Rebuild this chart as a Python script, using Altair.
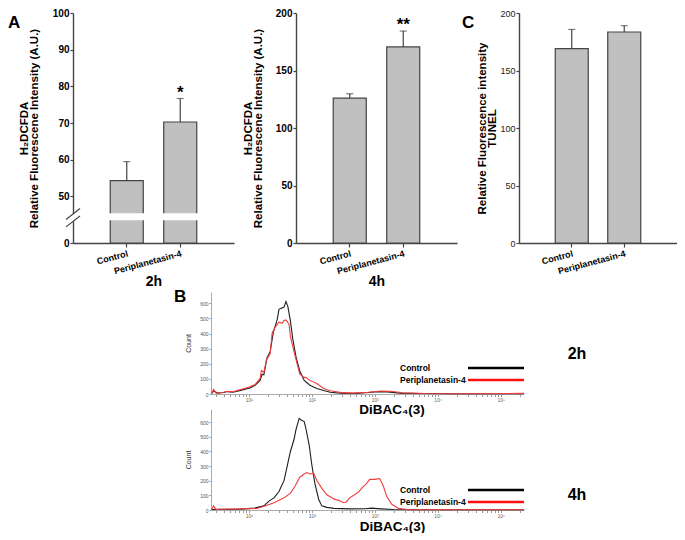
import math
import altair as alt
import pandas as pd

FONT = "Liberation Sans"
groups = ["Control", "Periplanetasin-4"]

# ---- bar panels (mean, error) ----
h2dcfda_2h_mean = [54.3, 70.3]
h2dcfda_2h_err = [5.2, 6.4]
h2dcfda_4h_mean = [126.0, 170.5]
h2dcfda_4h_err = [3.8, 13.8]
tunel_mean = [169.0, 183.5]
tunel_err = [16.7, 5.5]
sig_2h = ["", "*"]
sig_4h = ["", "**"]
sig_tunel = ["", ""]

ticks_2h = [0, 50, 60, 70, 80, 90, 100]
ticks_200 = [0, 50, 100, 150, 200]
break_band = [41.0, 45.4]      # white gap drawn across the bars (axis break)
axis_gap = [39.0, 45.2]        # gap in the y axis line
slash_lo = [42.1, 29.0]        # break marks (start value)
slash_hi = [46.7, 44.7]        # break marks (end value)

# ---- DiBAC4(3) histograms: log10 intensity, cell count ----
h2_ctrl_log = [0.41, 0.45, 0.50, 0.60, 0.66, 0.75, 0.87, 1.02, 1.10, 1.18, 1.21, 1.24, 1.29, 1.34, 1.39,
               1.45, 1.48, 1.53, 1.56, 1.59, 1.62, 1.66, 1.70, 1.75, 1.81, 1.88, 1.97, 2.08, 2.19, 2.29,
               2.45, 2.70, 2.90, 3.05, 3.20, 3.40, 3.70, 4.20, 5.37]
h2_ctrl_cnt = [4, 20, 6, 10, 16, 12, 24, 40, 58, 90, 130, 128, 240, 280, 410,
               490, 560, 570, 575, 612, 580, 486, 360, 246, 152, 90, 58, 37, 23, 12,
               6, 4, 10, 16, 14, 6, 3, 2, 2]
h2_trt_log = [0.41, 0.44, 0.48, 0.60, 0.66, 0.75, 0.87, 0.98, 1.10, 1.18, 1.20, 1.24, 1.28, 1.34, 1.37,
              1.42, 1.48, 1.53, 1.56, 1.59, 1.64, 1.66, 1.72, 1.77, 1.81, 1.88, 1.92, 1.97, 2.08, 2.19,
              2.29, 2.45, 2.65, 2.90, 3.10, 3.25, 3.45, 3.80, 4.30, 5.00, 5.37]
h2_trt_cnt = [4, 30, 5, 12, 18, 14, 30, 42, 62, 104, 156, 143, 225, 268, 402,
              443, 475, 468, 486, 490, 460, 381, 277, 194, 131, 110, 106, 90, 69, 37,
              21, 11, 6, 12, 20, 18, 8, 3, 2, 3, 4]

h4_ctrl_log = [0.41, 0.60, 0.87, 1.09, 1.24, 1.32, 1.40, 1.48, 1.56, 1.61, 1.66, 1.72, 1.75, 1.80, 1.83,
               1.88, 1.91, 1.96, 2.00, 2.05, 2.11, 2.16, 2.24, 2.35, 2.60, 2.85, 2.95, 3.10, 3.30, 3.60, 5.37]
h4_ctrl_cnt = [3, 4, 6, 13, 28, 61, 83, 126, 202, 300, 398, 485, 550, 626, 615,
               604, 550, 441, 311, 180, 72, 28, 18, 11, 8, 9, 13, 8, 3, 2, 2]
h4_trt_log = [0.41, 0.44, 0.48, 0.60, 0.87, 1.13, 1.29, 1.40, 1.56, 1.66, 1.73, 1.81, 1.88, 1.92, 1.97,
              2.03, 2.08, 2.16, 2.24, 2.35, 2.45, 2.51, 2.55, 2.60, 2.68, 2.75, 2.79, 2.87, 2.92, 3.00,
              3.08, 3.14, 3.19, 3.27, 3.38, 3.54, 4.00, 5.37]
h4_trt_cnt = [3, 28, 4, 5, 8, 10, 33, 50, 83, 115, 159, 224, 246, 256, 246,
              250, 202, 148, 104, 76, 61, 50, 55, 83, 104, 125, 148, 180, 209, 209,
              215, 159, 93, 39, 11, 2, 2, 2]

count_ticks = [0, 100, 200, 300, 400, 500, 600]
decades = [1, 2, 3, 4, 5]
decade_labels = ["10\u00b9", "10\u00b2", "10\u00b3", "10\u2074", "10\u2075"]
hist_xtitle = "DiBAC\u2084(3)"

AX = "#444444"


def bar_panel(mean, err, sig, yscale, yticks, ytitle, xtitle, width, height,
              bold_ticks, title_x, letter, letter_x, extra=None):
    df = pd.DataFrame({"group": groups, "mean": mean,
                       "top": [m + e for m, e in zip(mean, err)], "sig": sig})
    xaxis = alt.Axis(title=xtitle, titleY=38, titleBaseline="middle", titleFontSize=14,
                     titleFontWeight="bold", titleColor="black",
                     labelAngle=345, labelAlign="right", labelBaseline="top",
                     labelFontSize=9, labelFontWeight="bold", labelColor="black", labelPadding=2,
                     tickSize=4, tickColor=AX, tickWidth=1.2, domainColor=AX, domainWidth=1.4)
    yaxis = alt.Axis(values=yticks, tickCount=len(yticks) + 5, title=ytitle, titleX=title_x,
                     titleBaseline="top",
                     titleAngle=270, titleFontSize=11.5, titleFontWeight="bold", titleColor="black",
                     titleLineHeight=10, labelOverlap=False,
                     labelFontSize=10 if bold_ticks else 9,
                     labelFontWeight="bold" if bold_ticks else "normal",
                     labelColor="black" if bold_ticks else "#222222", labelPadding=1,
                     tickSize=3, tickColor=AX, tickWidth=1.2, domainColor=AX, domainWidth=1.4,
                     grid=False)
    x = alt.X("group:N", sort=groups, scale=alt.Scale(paddingInner=0.37, paddingOuter=0.69), axis=xaxis)
    base = alt.Chart(df).encode(x=x)
    bars = base.mark_bar(fill="#c0c0c0", stroke=AX, strokeWidth=1.2, size=33).encode(
        y=alt.Y("mean:Q", scale=yscale, axis=yaxis))
    rule = base.mark_rule(color=AX, strokeWidth=1.2).encode(y="mean:Q", y2="top:Q")
    cap = base.mark_tick(color=AX, thickness=1.2, size=7).encode(y="top:Q")
    star = base.mark_text(fontSize=17, fontWeight="bold", baseline="alphabetic", dy=-1,
                          color="black").encode(y="top:Q", text="sig:N")
    lt = alt.Chart(pd.DataFrame({"t": [letter]})).mark_text(
        fontSize=17, fontWeight="bold", align="left", baseline="alphabetic", color="black").encode(
        x=alt.value(letter_x), y=alt.value(15), text="t:N")
    layers = [bars]
    if extra is not None:
        layers += extra(x)
    layers += [rule, cap, star, lt]
    return alt.layer(*layers).properties(width=width, height=height)


H_TOP = 230
scale_2h = alt.Scale(domain=[0, 44, 100], range=[H_TOP, 205.5, 0], nice=False, zero=False)
scale_200 = alt.Scale(domain=[0, 200], nice=False)


def break_layers(x):
    band = pd.DataFrame({"group": groups, "lo": [break_band[0]] * 2, "hi": [break_band[1]] * 2})
    white = alt.Chart(band).mark_bar(fill="white", size=37).encode(
        x=x, y=alt.Y("lo:Q", scale=scale_2h), y2="hi:Q")
    gap = alt.Chart(pd.DataFrame({"lo": [axis_gap[0]], "hi": [axis_gap[1]]})).mark_rule(
        color="white", strokeWidth=4).encode(x=alt.value(0), y=alt.Y("lo:Q", scale=scale_2h), y2="hi:Q")
    sl = alt.Chart(pd.DataFrame({"lo": slash_lo, "hi": slash_hi})).mark_rule(
        color=AX, strokeWidth=1.2).encode(x=alt.value(-7), x2=alt.value(7),
                                          y=alt.Y("lo:Q", scale=scale_2h), y2="hi:Q")
    return [white, gap, sl]


pA = bar_panel(h2dcfda_2h_mean, h2dcfda_2h_err, sig_2h, scale_2h, ticks_2h,
               ["H\u2082DCFDA", "Relative Fluorescene Intensity (A.U.)"], "2h", 161, H_TOP,
               True, -55, "A", -65, extra=break_layers)
pB = bar_panel(h2dcfda_4h_mean, h2dcfda_4h_err, sig_4h, scale_200, ticks_200,
               ["H\u2082DCFDA", "Relative Fluorescene Intensity (A.U.)"], "4h", 161, H_TOP,
               True, -54, "", -60)
pC = bar_panel(tunel_mean, tunel_err, sig_tunel, scale_200, ticks_200,
               ["Relative Fluorescence intensity", "TUNEL"], "", 158, H_TOP,
               False, -43, "C", -57)

minor_vals = sorted({round(k + math.log10(m), 4) for k in range(0, 6) for m in range(1, 10)
                     if 0.4 <= k + math.log10(m) <= 5.37})
label_expr = " : ".join(f"datum.value == {d} ? '{t}'" for d, t in zip(decades, decade_labels)) + " : ''"
color_scale = alt.Scale(domain=groups, range=["#1e1e1e", "#f03c3c"])


def hist_panel(cl, cc, tl, tc, ymax, height, time_label, leg_y, time_y, letter,
               axis_title, title_above):
    df = pd.DataFrame(
        [{"series": groups[0], "logx": a, "count": b} for a, b in zip(cl, cc)] +
        [{"series": groups[1], "logx": a, "count": b} for a, b in zip(tl, tc)])
    xaxis = alt.Axis(values=minor_vals, tickCount=len(minor_vals) + 5, labelExpr=label_expr,
                     title=axis_title, titleX=181,
                     titleY=16, titleBaseline="middle", titleFontSize=13.5, titleFontWeight="bold",
                     titleColor="black", labelFontSize=5, labelColor="#666666", labelPadding=1,
                     labelOverlap=False, labelFlush=False, tickSize=2.5, tickColor="#999999",
                     domainColor="#aaaaaa", domainWidth=1, grid=False)
    yaxis = alt.Axis(values=count_ticks, tickCount=len(count_ticks) + 5, title="Count",
                     titleFontSize=7, titleFontWeight="normal",
                     titleColor="#333333", titleX=-27, titleBaseline="top", labelFontSize=5,
                     labelColor="#555555", labelPadding=1, tickSize=2, tickColor="#999999",
                     labelOverlap=False, domainColor="#aaaaaa", domainWidth=1, grid=False)
    lines = alt.Chart(df).mark_line(strokeWidth=1.1).encode(
        x=alt.X("logx:Q", scale=alt.Scale(domain=[0.4, 5.37], nice=False, zero=False), axis=xaxis),
        y=alt.Y("count:Q", scale=alt.Scale(domain=[0, ymax], nice=False), axis=yaxis),
        color=alt.Color("series:N", scale=color_scale, legend=None))
    layers = [lines]
    leg_cols = ["black", "#ff1010"]
    for i, g in enumerate(groups):
        d = pd.DataFrame({"series": [g]})
        layers.append(alt.Chart(d).mark_text(fontSize=8.5, fontWeight="bold", align="left",
                                             baseline="middle", color="black").encode(
            x=alt.value(189), y=alt.value(leg_y[i]), text="series:N"))
        layers.append(alt.Chart(d).mark_rule(strokeWidth=2.6, color=leg_cols[i]).encode(
            x=alt.value(257), x2=alt.value(313), y=alt.value(leg_y[i])))
    tl_df = pd.DataFrame({"t": [time_label]})
    layers.append(alt.Chart(tl_df).mark_text(fontSize=16, fontWeight="bold", color="black").encode(
        x=alt.value(366), y=alt.value(time_y), text="t:N"))
    if letter:
        layers.append(alt.Chart(pd.DataFrame({"t": [letter]})).mark_text(
            fontSize=17, fontWeight="bold", align="left", baseline="alphabetic", color="black").encode(
            x=alt.value(-37), y=alt.value(10), text="t:N"))
    if title_above:
        # x-axis title of the histogram above, which sits just over this panel
        layers.append(alt.Chart(pd.DataFrame({"t": [title_above]})).mark_text(
            fontSize=13.5, fontWeight="bold", baseline="middle", color="black").encode(
            x=alt.value(181), y=alt.value(1), text="t:N"))
    return alt.layer(*layers).properties(width=313, height=height)


def spacer(w, h):
    return alt.Chart(pd.DataFrame({"s": [0]})).mark_point(opacity=0).encode(
        x=alt.value(0), y=alt.value(0)).properties(width=w, height=h)


hTop = hist_panel(h2_ctrl_log, h2_ctrl_cnt, h2_trt_log, h2_trt_cnt, 675, 102, "2h", [76, 88], 62,
                  "B", "", "")
hBot = hist_panel(h4_ctrl_log, h4_ctrl_cnt, h4_trt_log, h4_trt_cnt, 690, 101, "4h", [81, 93], 86,
                  "", hist_xtitle, hist_xtitle)

top = alt.hconcat(pA, pB, pC, spacing=62, bounds="flush")
row2 = alt.hconcat(spacer(138, 102), hTop, spacing=0, bounds="flush")
row3 = alt.hconcat(spacer(138, 101), hBot, spacing=0, bounds="flush")

chart = alt.vconcat(top, row2, row3, spacing=0).properties(
    padding=0).configure(font=FONT, view=alt.ViewConfig(stroke=None))

chart.save("out.html", embed_options={"renderer": "svg", "actions": False})
